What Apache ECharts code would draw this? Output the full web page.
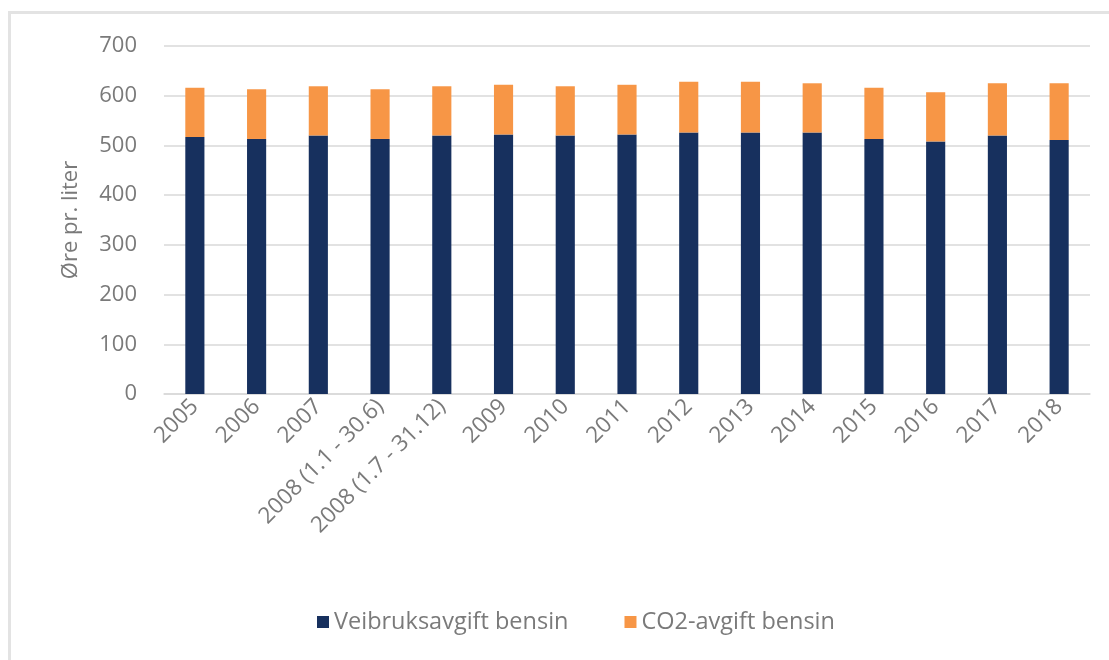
<!DOCTYPE html>
<html>
<head>
<meta charset="utf-8">
<script src="https://cdn.jsdelivr.net/npm/echarts@6/dist/echarts.min.js"></script>
<style>
  html, body { margin: 0; padding: 0; background: #fff; }
  #frame { position: absolute; left: 8px; top: 11px; width: 1120px; height: 680px;
           border-left: 3px solid #e3e3e3; border-top: 3px solid #e3e3e3; }
  #chart { position: absolute; left: 0; top: 0; width: 1109px; height: 660px; }
</style>
</head>
<body>
<div id="frame"></div>
<div id="chart"></div>
<script>
const years = ["2005", "2006", "2007", "2008 (1.1 - 30.6)", "2008 (1.7 - 31.12)", "2009", "2010",
  "2011", "2012", "2013", "2014", "2015", "2016", "2017", "2018"];
const veibruk = [517, 513, 520, 513, 520, 522, 520, 522, 526, 526, 526, 513, 508, 520, 511];
const co2 = [99, 100, 99, 100, 99, 100, 99, 100, 102, 102, 99, 103, 99, 105, 114];

const chart = echarts.init(document.getElementById("chart"));
const font = "Open Sans";
const grey = "#7a7a7a";

option = {
  animation: false,
  textStyle: { fontFamily: font },
  grid: { left: 164, right: 19, top: 46, bottom: 266, containLabel: false },
  legend: {
    top: 605,
    left: 312,
    itemWidth: 12,
    itemHeight: 12,
    itemGap: 56,
    icon: "rect",
    textStyle: { fontFamily: font, fontSize: 23.5, color: grey },
    data: ["Veibruksavgift bensin", "CO2-avgift bensin"],
  },
  xAxis: {
    type: "category",
    data: years,
    axisLine: { lineStyle: { color: "#d9d9d9", width: 1.5 } },
    axisTick: { show: false },
    axisLabel: { rotate: 45, fontSize: 22.5, color: grey, margin: 9, interval: 0 },
  },
  yAxis: {
    type: "value",
    min: 0,
    max: 700,
    interval: 100,
    name: "Øre pr. liter",
    nameLocation: "middle",
    nameGap: 82,
    nameTextStyle: { fontSize: 22, color: grey },
    axisLine: { show: false },
    axisTick: { show: false },
    axisLabel: { fontSize: 22, color: grey, margin: 27 },
    splitLine: { lineStyle: { color: "#d9d9d9", width: 1.5 } },
  },
  series: [
    {
      name: "Veibruksavgift bensin",
      type: "bar",
      stack: "total",
      barWidth: "31%",
      itemStyle: { color: "#17305e" },
      data: veibruk,
    },
    {
      name: "CO2-avgift bensin",
      type: "bar",
      stack: "total",
      barWidth: "31%",
      itemStyle: { color: "#f79646" },
      data: co2,
    },
  ],
};

chart.setOption(option);
</script>
</body>
</html>
